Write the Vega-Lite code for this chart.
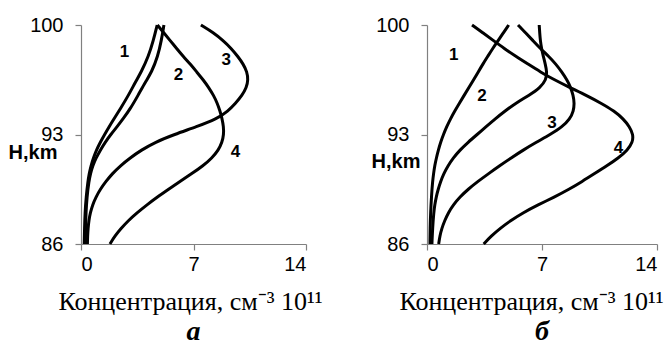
{
  "$schema": "https://vega.github.io/schema/vega-lite/v6.json",
  "background": "white",
  "padding": {"left": 8, "top": 15, "right": 0, "bottom": 0},
  "spacing": 121,
  "bounds": "flush",
  "config": {
    "view": {"stroke": null},
    "axis": {
      "grid": false,
      "domainColor": "#808080",
      "tickColor": "#808080",
      "domainWidth": 1.2,
      "tickWidth": 1.2,
      "tickSize": 6,
      "labelFont": "Liberation Sans",
      "labelFontSize": 20,
      "labelColor": "#000000",
      "titleColor": "#000000"
    }
  },
  "datasets": {
    "curvesA": [
      {"curve": "1", "H": 100, "c": 4.74},
      {"curve": "1", "H": 99, "c": 4.5},
      {"curve": "1", "H": 98, "c": 4.2},
      {"curve": "1", "H": 97, "c": 3.75},
      {"curve": "1", "H": 96.36, "c": 3.39},
      {"curve": "1", "H": 95.5, "c": 2.95},
      {"curve": "1", "H": 94.65, "c": 2.45},
      {"curve": "1", "H": 94, "c": 2.05},
      {"curve": "1", "H": 93.5, "c": 1.75},
      {"curve": "1", "H": 93, "c": 1.47},
      {"curve": "1", "H": 92.5, "c": 1.2},
      {"curve": "1", "H": 92, "c": 0.96},
      {"curve": "1", "H": 91.5, "c": 0.77},
      {"curve": "1", "H": 91, "c": 0.62},
      {"curve": "1", "H": 90.5, "c": 0.51},
      {"curve": "1", "H": 90, "c": 0.43},
      {"curve": "1", "H": 89, "c": 0.32},
      {"curve": "1", "H": 88, "c": 0.25},
      {"curve": "1", "H": 87, "c": 0.22},
      {"curve": "1", "H": 86, "c": 0.2},
      {"curve": "2", "H": 100, "c": 5.16},
      {"curve": "2", "H": 99, "c": 5.0},
      {"curve": "2", "H": 98, "c": 4.78},
      {"curve": "2", "H": 97, "c": 4.4},
      {"curve": "2", "H": 96.36, "c": 4.01},
      {"curve": "2", "H": 95.5, "c": 3.55},
      {"curve": "2", "H": 94.65, "c": 3.07},
      {"curve": "2", "H": 94, "c": 2.62},
      {"curve": "2", "H": 93.5, "c": 2.25},
      {"curve": "2", "H": 93, "c": 1.85},
      {"curve": "2", "H": 92.5, "c": 1.5},
      {"curve": "2", "H": 92, "c": 1.2},
      {"curve": "2", "H": 91.5, "c": 0.94},
      {"curve": "2", "H": 91, "c": 0.73},
      {"curve": "2", "H": 90.5, "c": 0.59},
      {"curve": "2", "H": 90, "c": 0.49},
      {"curve": "2", "H": 89, "c": 0.37},
      {"curve": "2", "H": 88, "c": 0.31},
      {"curve": "2", "H": 87, "c": 0.28},
      {"curve": "2", "H": 86, "c": 0.27},
      {"curve": "3", "H": 100, "c": 7.46},
      {"curve": "3", "H": 99.5, "c": 8.25},
      {"curve": "3", "H": 99, "c": 8.85},
      {"curve": "3", "H": 98.5, "c": 9.35},
      {"curve": "3", "H": 98, "c": 9.75},
      {"curve": "3", "H": 97.5, "c": 10.1},
      {"curve": "3", "H": 97, "c": 10.33},
      {"curve": "3", "H": 96.5, "c": 10.4},
      {"curve": "3", "H": 96, "c": 10.3},
      {"curve": "3", "H": 95.5, "c": 10.02},
      {"curve": "3", "H": 95, "c": 9.62},
      {"curve": "3", "H": 94.5, "c": 9.15},
      {"curve": "3", "H": 94, "c": 8.45},
      {"curve": "3", "H": 93.5, "c": 7.2},
      {"curve": "3", "H": 93, "c": 5.8},
      {"curve": "3", "H": 92.5, "c": 4.6},
      {"curve": "3", "H": 92, "c": 3.75},
      {"curve": "3", "H": 91.5, "c": 3.05},
      {"curve": "3", "H": 91, "c": 2.45},
      {"curve": "3", "H": 90.5, "c": 1.95},
      {"curve": "3", "H": 90, "c": 1.55},
      {"curve": "3", "H": 89.5, "c": 1.2},
      {"curve": "3", "H": 89, "c": 0.93},
      {"curve": "3", "H": 88.5, "c": 0.72},
      {"curve": "3", "H": 88, "c": 0.58},
      {"curve": "3", "H": 87.5, "c": 0.49},
      {"curve": "3", "H": 87, "c": 0.44},
      {"curve": "3", "H": 86.5, "c": 0.41},
      {"curve": "3", "H": 86, "c": 0.4},
      {"curve": "4", "H": 100, "c": 4.75},
      {"curve": "4", "H": 99.5, "c": 5.15},
      {"curve": "4", "H": 99, "c": 5.55},
      {"curve": "4", "H": 98.5, "c": 5.95},
      {"curve": "4", "H": 98, "c": 6.35},
      {"curve": "4", "H": 97.5, "c": 6.8},
      {"curve": "4", "H": 97, "c": 7.2},
      {"curve": "4", "H": 96.5, "c": 7.6},
      {"curve": "4", "H": 96, "c": 7.95},
      {"curve": "4", "H": 95.5, "c": 8.25},
      {"curve": "4", "H": 95, "c": 8.48},
      {"curve": "4", "H": 94.5, "c": 8.65},
      {"curve": "4", "H": 94, "c": 8.78},
      {"curve": "4", "H": 93.5, "c": 8.87},
      {"curve": "4", "H": 93, "c": 8.88},
      {"curve": "4", "H": 92.5, "c": 8.78},
      {"curve": "4", "H": 92, "c": 8.55},
      {"curve": "4", "H": 91.5, "c": 8.15},
      {"curve": "4", "H": 91, "c": 7.6},
      {"curve": "4", "H": 90.5, "c": 6.9},
      {"curve": "4", "H": 90, "c": 6.15},
      {"curve": "4", "H": 89.5, "c": 5.45},
      {"curve": "4", "H": 89, "c": 4.75},
      {"curve": "4", "H": 88.5, "c": 4.1},
      {"curve": "4", "H": 88, "c": 3.5},
      {"curve": "4", "H": 87.5, "c": 2.95},
      {"curve": "4", "H": 87, "c": 2.5},
      {"curve": "4", "H": 86.5, "c": 2.1},
      {"curve": "4", "H": 86, "c": 1.8}
    ],
    "labelsA": [
      {"curve": "1", "H": 98.25, "c": 2.71},
      {"curve": "2", "H": 96.79, "c": 6.06},
      {"curve": "3", "H": 97.75, "c": 9.03},
      {"curve": "4", "H": 91.86, "c": 9.61}
    ],
    "curvesB": [
      {"curve": "1", "H": 100, "c": 4.97},
      {"curve": "1", "H": 99.5, "c": 4.65},
      {"curve": "1", "H": 99, "c": 4.33},
      {"curve": "1", "H": 98.5, "c": 4.0},
      {"curve": "1", "H": 98, "c": 3.7},
      {"curve": "1", "H": 97.5, "c": 3.4},
      {"curve": "1", "H": 97, "c": 3.12},
      {"curve": "1", "H": 96.5, "c": 2.84},
      {"curve": "1", "H": 96, "c": 2.55},
      {"curve": "1", "H": 95.5, "c": 2.26},
      {"curve": "1", "H": 95, "c": 1.97},
      {"curve": "1", "H": 94.5, "c": 1.69},
      {"curve": "1", "H": 94, "c": 1.43},
      {"curve": "1", "H": 93.5, "c": 1.2},
      {"curve": "1", "H": 93, "c": 1.0},
      {"curve": "1", "H": 92.5, "c": 0.83},
      {"curve": "1", "H": 92, "c": 0.69},
      {"curve": "1", "H": 91.5, "c": 0.57},
      {"curve": "1", "H": 91, "c": 0.47},
      {"curve": "1", "H": 90.5, "c": 0.4},
      {"curve": "1", "H": 90, "c": 0.34},
      {"curve": "1", "H": 89, "c": 0.27},
      {"curve": "1", "H": 88, "c": 0.22},
      {"curve": "1", "H": 87, "c": 0.19},
      {"curve": "1", "H": 86, "c": 0.18},
      {"curve": "2", "H": 100, "c": 6.83},
      {"curve": "2", "H": 99.5, "c": 6.86},
      {"curve": "2", "H": 99, "c": 6.9},
      {"curve": "2", "H": 98.5, "c": 6.97},
      {"curve": "2", "H": 98, "c": 7.08},
      {"curve": "2", "H": 97.5, "c": 7.2},
      {"curve": "2", "H": 97, "c": 7.3},
      {"curve": "2", "H": 96.5, "c": 7.25},
      {"curve": "2", "H": 96, "c": 6.9},
      {"curve": "2", "H": 95.5, "c": 6.2},
      {"curve": "2", "H": 95, "c": 5.4},
      {"curve": "2", "H": 94.5, "c": 4.75},
      {"curve": "2", "H": 94, "c": 4.15},
      {"curve": "2", "H": 93.5, "c": 3.6},
      {"curve": "2", "H": 93, "c": 3.05},
      {"curve": "2", "H": 92.5, "c": 2.5},
      {"curve": "2", "H": 92, "c": 2.0},
      {"curve": "2", "H": 91.5, "c": 1.6},
      {"curve": "2", "H": 91, "c": 1.28},
      {"curve": "2", "H": 90.5, "c": 1.02},
      {"curve": "2", "H": 90, "c": 0.83},
      {"curve": "2", "H": 89.5, "c": 0.68},
      {"curve": "2", "H": 89, "c": 0.56},
      {"curve": "2", "H": 88.5, "c": 0.47},
      {"curve": "2", "H": 88, "c": 0.41},
      {"curve": "2", "H": 87, "c": 0.34},
      {"curve": "2", "H": 86, "c": 0.3},
      {"curve": "3", "H": 100, "c": 5.54},
      {"curve": "3", "H": 99.5, "c": 6.0},
      {"curve": "3", "H": 99, "c": 6.45},
      {"curve": "3", "H": 98.5, "c": 6.9},
      {"curve": "3", "H": 98, "c": 7.4},
      {"curve": "3", "H": 97.5, "c": 7.85},
      {"curve": "3", "H": 97, "c": 8.2},
      {"curve": "3", "H": 96.5, "c": 8.52},
      {"curve": "3", "H": 96, "c": 8.75},
      {"curve": "3", "H": 95.5, "c": 8.9},
      {"curve": "3", "H": 95, "c": 8.97},
      {"curve": "3", "H": 94.5, "c": 8.92},
      {"curve": "3", "H": 94, "c": 8.7},
      {"curve": "3", "H": 93.5, "c": 8.25},
      {"curve": "3", "H": 93, "c": 7.5},
      {"curve": "3", "H": 92.5, "c": 6.65},
      {"curve": "3", "H": 92, "c": 5.85},
      {"curve": "3", "H": 91.5, "c": 5.12},
      {"curve": "3", "H": 91, "c": 4.42},
      {"curve": "3", "H": 90.5, "c": 3.75},
      {"curve": "3", "H": 90, "c": 3.1},
      {"curve": "3", "H": 89.5, "c": 2.5},
      {"curve": "3", "H": 89, "c": 2.0},
      {"curve": "3", "H": 88.5, "c": 1.6},
      {"curve": "3", "H": 88, "c": 1.3},
      {"curve": "3", "H": 87.5, "c": 1.08},
      {"curve": "3", "H": 87, "c": 0.9},
      {"curve": "3", "H": 86.5, "c": 0.78},
      {"curve": "3", "H": 86, "c": 0.71},
      {"curve": "4", "H": 100, "c": 2.74},
      {"curve": "4", "H": 99.5, "c": 3.4},
      {"curve": "4", "H": 99, "c": 4.05},
      {"curve": "4", "H": 98.5, "c": 4.7},
      {"curve": "4", "H": 98, "c": 5.4},
      {"curve": "4", "H": 97.5, "c": 6.15},
      {"curve": "4", "H": 97, "c": 6.9},
      {"curve": "4", "H": 96.5, "c": 7.75},
      {"curve": "4", "H": 96, "c": 8.7},
      {"curve": "4", "H": 95.5, "c": 9.7},
      {"curve": "4", "H": 95, "c": 10.6},
      {"curve": "4", "H": 94.5, "c": 11.4},
      {"curve": "4", "H": 94, "c": 11.95},
      {"curve": "4", "H": 93.5, "c": 12.33},
      {"curve": "4", "H": 93, "c": 12.55},
      {"curve": "4", "H": 92.5, "c": 12.52},
      {"curve": "4", "H": 92, "c": 12.2},
      {"curve": "4", "H": 91.5, "c": 11.65},
      {"curve": "4", "H": 91, "c": 10.95},
      {"curve": "4", "H": 90.5, "c": 10.2},
      {"curve": "4", "H": 90, "c": 9.45},
      {"curve": "4", "H": 89.5, "c": 8.65},
      {"curve": "4", "H": 89, "c": 7.75},
      {"curve": "4", "H": 88.5, "c": 6.75},
      {"curve": "4", "H": 88, "c": 5.85},
      {"curve": "4", "H": 87.5, "c": 5.1},
      {"curve": "4", "H": 87, "c": 4.45},
      {"curve": "4", "H": 86.5, "c": 3.9},
      {"curve": "4", "H": 86, "c": 3.45}
    ],
    "labelsB": [
      {"curve": "1", "H": 98.09, "c": 1.62},
      {"curve": "2", "H": 95.44, "c": 3.35},
      {"curve": "3", "H": 93.74, "c": 7.61},
      {"curve": "4", "H": 92.15, "c": 11.66}
    ]
  },
  "hconcat": [
    {
      "width": 225,
      "height": 219,
      "title": {"text": "а", "orient": "bottom", "font": "Liberation Serif", "fontSize": 28, "fontStyle": "italic", "fontWeight": "bold", "color": "#000000", "offset": 4},
      "encoding": {
        "x": {"field": "c", "type": "quantitative", "scale": {"domain": [0, 14]},
          "axis": {"values": [0, 7, 14], "title": "Концентрация, см⁻³ 10¹¹", "titleFont": "Liberation Serif", "titleFontSize": 26, "titleFontWeight": "normal", "titleX": 109, "titleAlign": "center", "labelPadding": 4, "titlePadding": 14}},
        "y": {"field": "H", "type": "quantitative", "scale": {"domain": [86, 100]},
          "axis": {"values": [86, 93, 100], "title": "H,km", "titleAngle": 0, "titleAlign": "right", "titleBaseline": "middle", "titleX": -24, "titleY": 127, "titleFont": "Liberation Sans", "titleFontSize": 20, "titleFontWeight": "bold", "labelPadding": 12}}
      },
      "layer": [
        {
          "data": {"name": "curvesA"},
          "mark": {"type": "line", "interpolate": "basis", "stroke": "#000000", "strokeWidth": 3},
          "encoding": {
            "detail": {"field": "curve"},
            "order": {"field": "H", "sort": "descending"}
          }
        },
        {
          "data": {"name": "labelsA"},
          "mark": {"type": "text", "font": "Liberation Sans", "fontWeight": "bold", "fontSize": 17, "color": "#000000"},
          "encoding": {"text": {"field": "curve"}}
        }
      ]
    },
    {
      "width": 230,
      "height": 219,
      "title": {"text": "б", "orient": "bottom", "font": "Liberation Serif", "fontSize": 28, "fontStyle": "italic", "fontWeight": "bold", "color": "#000000", "offset": 4},
      "encoding": {
        "x": {"field": "c", "type": "quantitative", "scale": {"domain": [0, 14]},
          "axis": {"values": [0, 7, 14], "title": "Концентрация, см⁻³ 10¹¹", "titleFont": "Liberation Serif", "titleFontSize": 26, "titleFontWeight": "normal", "titleX": 104, "titleAlign": "center", "labelPadding": 4, "titlePadding": 14}},
        "y": {"field": "H", "type": "quantitative", "scale": {"domain": [86, 100]},
          "axis": {"values": [86, 93, 100], "title": "H,km", "titleAngle": 0, "titleAlign": "right", "titleBaseline": "middle", "titleX": -7, "titleY": 136, "titleFont": "Liberation Sans", "titleFontSize": 20, "titleFontWeight": "bold", "labelPadding": 12}}
      },
      "layer": [
        {
          "data": {"name": "curvesB"},
          "mark": {"type": "line", "interpolate": "basis", "stroke": "#000000", "strokeWidth": 3},
          "encoding": {
            "detail": {"field": "curve"},
            "order": {"field": "H", "sort": "descending"}
          }
        },
        {
          "data": {"name": "labelsB"},
          "mark": {"type": "text", "font": "Liberation Sans", "fontWeight": "bold", "fontSize": 17, "color": "#000000"},
          "encoding": {"text": {"field": "curve"}}
        }
      ]
    }
  ]
}
